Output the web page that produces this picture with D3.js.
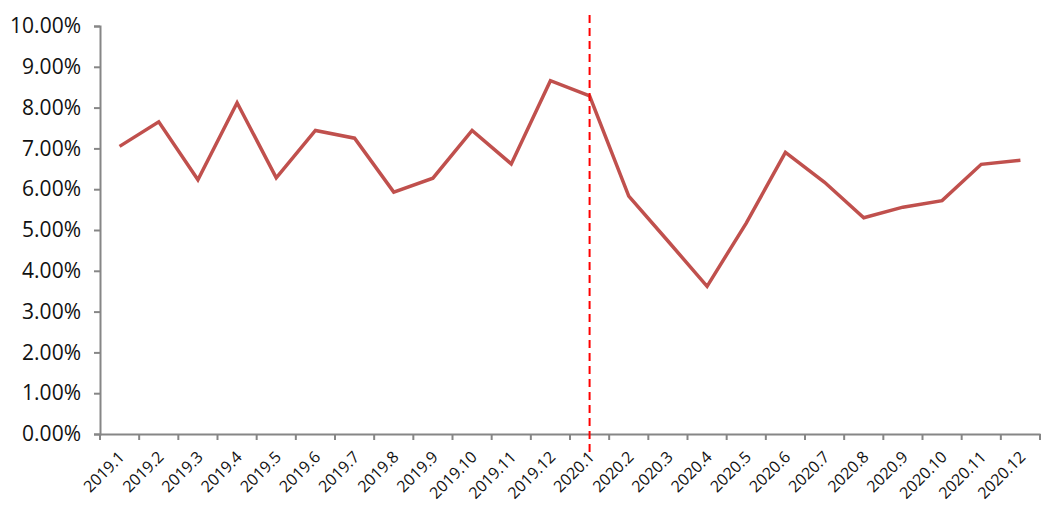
<!DOCTYPE html>
<html><head><meta charset="utf-8">
<script src="https://cdn.jsdelivr.net/npm/d3@7"></script>
<style>body{margin:0;background:#fff}svg{display:block}</style>
</head><body><svg id="c" width="1044" height="526"></svg>
<script>
const categories = ["2019.1","2019.2","2019.3","2019.4","2019.5","2019.6","2019.7","2019.8","2019.9","2019.10","2019.11","2019.12","2020.1","2020.2","2020.3","2020.4","2020.5","2020.6","2020.7","2020.8","2020.9","2020.10","2020.11","2020.12"];
const values = [7.05,7.65,6.23,8.12,6.28,7.44,7.25,5.93,6.27,7.44,6.62,8.66,8.29,5.83,4.73,3.62,5.17,6.90,6.17,5.30,5.56,5.72,6.61,6.71];
const yTicks = [0,1,2,3,4,5,6,7,8,9,10];
const markerCategory = "2020.1";

const svg = d3.select("#c");
const font = "'Open Sans', 'Noto Sans', sans-serif";
const x = d3.scaleBand().domain(categories).range([100, 1040]);
const y = d3.scaleLinear().domain([0, 10]).range([434, 26]);

const yAxis = svg.append("g").attr("transform","translate(100,0)")
  .call(d3.axisLeft(y).tickValues(yTicks).tickSize(6).tickFormat(d => d.toFixed(2) + "%"));
yAxis.select(".domain").attr("stroke","#868686").attr("stroke-width",2);
yAxis.selectAll(".tick line").attr("stroke","#868686").attr("stroke-width",2);
yAxis.selectAll(".tick text").attr("font-family",font).attr("font-size",21).attr("fill","#111").attr("x",-19);

const xAxis = svg.append("g").attr("transform","translate(0,434)")
  .call(d3.axisBottom(x).tickValues([]).tickSizeOuter(0));
xAxis.select(".domain").attr("stroke","#868686").attr("stroke-width",2);
const bounds = categories.map(c => x(c)).concat([x.range()[1]]);
xAxis.selectAll(".bt").data(bounds).enter().append("line")
  .attr("x1",d=>d).attr("x2",d=>d).attr("y1",0).attr("y2",6)
  .attr("stroke","#868686").attr("stroke-width",2);
xAxis.selectAll(".lbl").data(categories).enter().append("text")
  .attr("transform", d => `translate(${x(d)+x.bandwidth()/2+2},${20}) rotate(-45)`)
  .attr("text-anchor","end").attr("dy","0.35em")
  .attr("font-family",font).attr("font-size",16).attr("fill","#111")
  .text(d => d);

const line = d3.line().x((d,i)=>x(categories[i])+x.bandwidth()/2).y(d=>y(d));
svg.append("path").datum(values).attr("d",line)
  .attr("fill","none").attr("stroke","#c0504d").attr("stroke-width",3.5).attr("stroke-linejoin","miter");

const mx = x(markerCategory)+x.bandwidth()/2;
svg.append("line").attr("x1",mx).attr("x2",mx).attr("y1",15).attr("y2",452)
  .attr("stroke","#ff0000").attr("stroke-width",2).attr("stroke-dasharray","8,5");
</script></body></html>
